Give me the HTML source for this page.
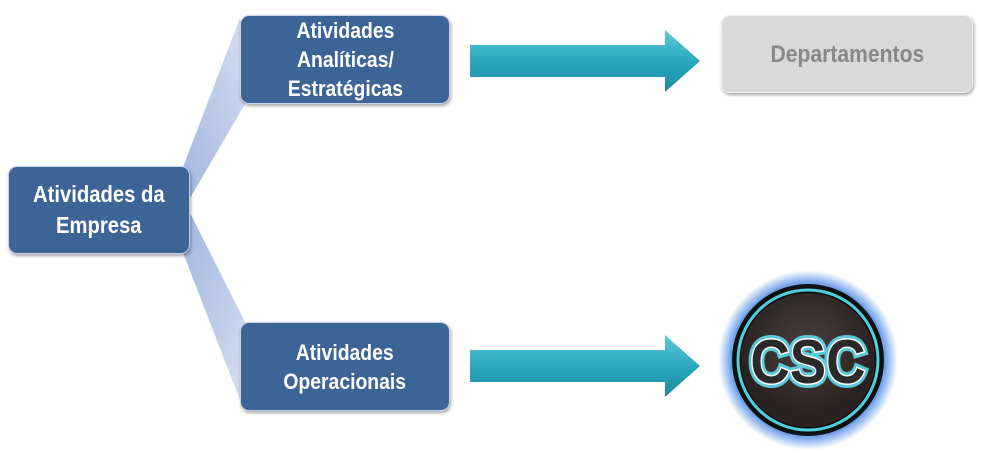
<!DOCTYPE html>
<html><head><meta charset="utf-8"><style>
body{margin:0;width:981px;height:453px;background:#fff;position:relative;overflow:hidden;font-family:"Liberation Sans",Arial,sans-serif}
.b{position:absolute;background:#3d6497;border-radius:9px;color:#fff;font-weight:bold;font-size:22px;line-height:29px;text-align:center;display:flex;align-items:center;justify-content:center;box-shadow:1px 2px 3px rgba(0,0,0,.35);border:1px solid #c8d4e6;box-sizing:border-box}
.b span{display:inline-block;transform:scaleX(0.88)}
</style></head><body>
<svg width="981" height="453" style="position:absolute;left:0;top:0">
<defs>
<linearGradient id="f1" x1="0" y1="1" x2="1" y2="0"><stop offset="0" stop-color="#9fb4de"/><stop offset="1" stop-color="#d5def1"/></linearGradient>
<linearGradient id="f2" x1="0" y1="0" x2="1" y2="1"><stop offset="0" stop-color="#9fb4de"/><stop offset="1" stop-color="#d5def1"/></linearGradient>
<linearGradient id="ar" x1="0" y1="0" x2="0" y2="1"><stop offset="0" stop-color="#5fcad8"/><stop offset="0.5" stop-color="#2aa7bf"/><stop offset="1" stop-color="#1c8aa3"/></linearGradient>
<radialGradient id="gl"><stop offset="0.8" stop-color="#3a7fe0"/><stop offset="1" stop-color="#3a7fe0" stop-opacity="0"/></radialGradient>
<radialGradient id="dk" cx="0.5" cy="0.4"><stop offset="0" stop-color="#4a4040"/><stop offset="1" stop-color="#2a2222"/></radialGradient>
</defs>
<polygon points="180,175 186,205 245,104 240,18" fill="url(#f1)"/>
<polygon points="186,205 180,245 240,400 245,322" fill="url(#f2)"/>
<polygon points="470,45 665,45 665,30 700,61 665,92 665,77 470,77" fill="url(#ar)"/>
<polygon points="470,350 665,350 665,335 700,366 665,397 665,382 470,382" fill="url(#ar)"/>
<circle cx="808" cy="360" r="90" fill="url(#gl)"/>
<circle cx="808" cy="360" r="76" fill="#111"/>
<circle cx="808" cy="360" r="70" fill="none" stroke="#4fd0e0" stroke-width="3"/>
<circle cx="808" cy="360" r="67" fill="url(#dk)"/>
<g transform="translate(808,0) scale(0.88,1) translate(-808,0)">
<text x="808" y="383" text-anchor="middle" font-family="Liberation Sans" font-weight="bold" font-size="62" fill="#2a2a2a" stroke="#5cc8dc" stroke-width="9" paint-order="stroke">CSC</text>
<text x="808" y="383" text-anchor="middle" font-family="Liberation Sans" font-weight="bold" font-size="62" fill="#2a2a2a" stroke="#fff" stroke-width="3" paint-order="stroke">CSC</text>
</g>
</svg>
<div class="b" style="left:8px;top:166px;width:182px;height:88px;font-size:23px;line-height:31px"><span>Atividades da<br>Empresa</span></div>
<div class="b" style="left:240px;top:15px;width:210px;height:89px"><span>Atividades<br>Analíticas/<br>Estratégicas</span></div>
<div class="b" style="left:240px;top:322px;width:210px;height:89px"><span>Atividades<br>Operacionais</span></div>
<div class="b" style="left:721px;top:15px;width:252px;height:78px;background:#d9d9d9;color:#888;border-color:#eee;font-size:24px"><span>Departamentos</span></div>
</body></html>
